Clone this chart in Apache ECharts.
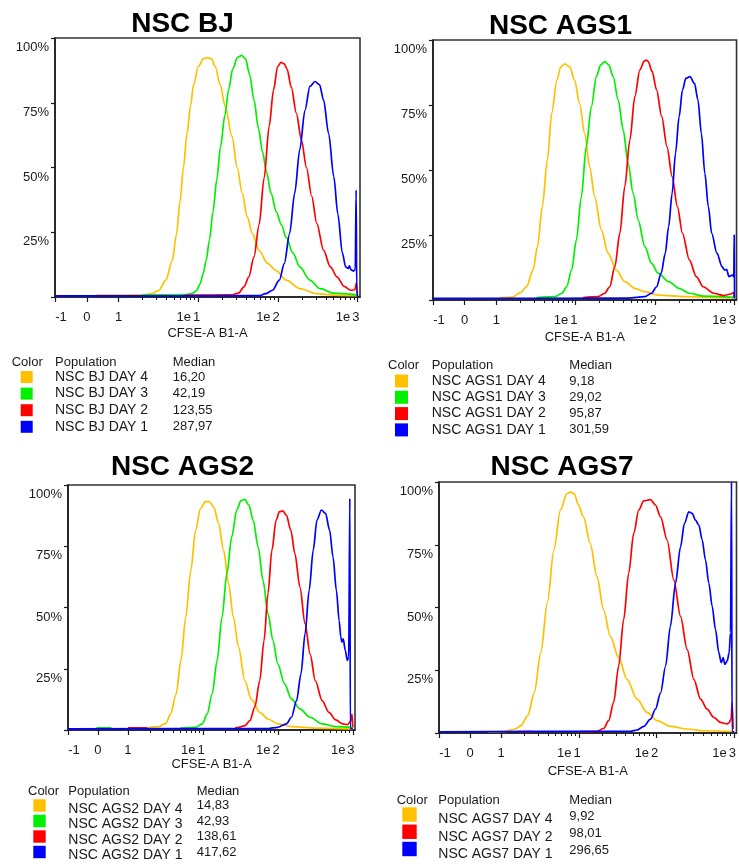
<!DOCTYPE html>
<html>
<head>
<meta charset="utf-8">
<title>CFSE proliferation histograms</title>
<script src="https://cdn.jsdelivr.net/npm/echarts@6/dist/echarts.min.js"></script>
<style>
  html, body { margin: 0; padding: 0; background: #fff; }
  #chart { width: 739px; height: 865px; }
</style>
</head>
<body>
<div id="chart"></div>
<script>
// ---- Axis ticks (CFSE-A B1-A channel, biexponential-style display) ----
const axisTickValues = [-1, 0, 1, 10, 100, 1000];
const axisTickLabels = ['-1', '0', '1', '1e1', '1e2', '1e3'];
const minorTickValues = [2, 3, 4, 5, 6, 7, 8, 9, 20, 30, 40, 50, 60, 70, 80, 90, 200, 300, 400, 500, 600, 700, 800, 900];
const yTickValues = [0, 25, 50, 75, 100];

// ---- Panel titles and populations ----
const panelTitles = ['NSC BJ', 'NSC AGS1', 'NSC AGS2', 'NSC AGS7'];
const panelDays = [
  ['DAY 4', 'DAY 3', 'DAY 2', 'DAY 1'],
  ['DAY 4', 'DAY 3', 'DAY 2', 'DAY 1'],
  ['DAY 4', 'DAY 3', 'DAY 2', 'DAY 1'],
  ['DAY 4', 'DAY 2', 'DAY 1']
];

// ---- Medians (channel value) ----
const bjMedians = [16.20, 42.19, 123.55, 287.97];
const ags1Medians = [9.18, 29.02, 95.87, 301.59];
const ags2Medians = [14.83, 42.93, 138.61, 417.62];
const ags7Medians = [9.92, 98.01, 296.65];

// ---- Histograms: [channel value, % of max] ----
const bjDay4 = [[0.3,0.7],[1,0.7],[2.2,0.9],[2.6,1.3],[3.2,2.6],[3.9,6.5],[4.7,14],[5.3,24],[5.9,37],[6.5,50],[7.2,63],[8,74],[8.7,82],[10,89],[11.6,92],[13,92.4],[14.5,92],[16.3,89],[18.8,82],[21.8,73.5],[26.5,62],[30.7,50],[35.6,40],[41.1,31],[47.6,24.5],[57.9,18],[73.9,13],[94,10.3],[127,6.5],[188,3.2],[307,1.3],[500,0.7],[990,0.5]];
const bjDay3 = [[2,0.8],[7,0.9],[8.5,1.4],[9.5,2.5],[10.5,5],[11.5,9],[12.5,14],[13.8,22],[15.3,33],[17,45],[19,58],[21.5,70],[24,80],[27,88],[31,92.5],[35,93.3],[39,92],[44,86],[50,76],[57,65],[64,56],[72,48],[82,40],[95,33],[110,28],[127,23],[154,17],[188,11.6],[252,6.5],[339,3.2],[500,1.5],[990,0.8]];
const bjDay2 = [[6.8,0.7],[26,0.8],[32,1.5],[37.4,3.9],[43,7.7],[50,15.5],[58,28],[67,46],[77.6,66],[88,80],[99,89],[109,90.6],[120,90],[130,88],[147,81],[170,71],[197,60.6],[228,50],[265,39],[307,28.4],[374,18],[455,11.6],[554,7.7],[675,4.1],[822,2.6],[925,2.8],[965,5.5],[990,1.5]];
const bjDay1 = [[-1,0.4],[58,0.5],[70,1.3],[85.5,2.6],[104,6.5],[120,12.9],[140,24.5],[162,40],[188,57],[218,72],[252,81.3],[292,83.2],[332,82],[374,76],[433,63],[502,46.5],[565,32],[643,17],[708,11.6],[759,11],[789,12],[822,10.6],[889,10],[934,10.6],[958,41.3],[975,2.6],[1000,0.3]];

const ags1Day4 = [[1.1,0.9],[1.6,1.1],[2.0,2.8],[2.4,5.1],[2.9,11.5],[3.3,20.5],[3.8,36],[4.4,54],[5.0,72],[5.8,84.6],[6.5,89.7],[7.3,90.8],[8.4,89.7],[9.7,84.6],[11.2,75.6],[13,64],[15,51.3],[17.4,39.7],[21.1,27],[25.6,18],[32.7,11.5],[41.7,7.1],[55.8,4.5],[74.7,3.2],[110,1.9],[246,1.3],[675,0.9],[1000,0.9]];
const ags1Day3 = [[3.2,0.9],[5.5,1.3],[6.7,2.6],[7.7,5.1],[8.9,11.5],[10.2,23],[11.8,39.7],[13.6,59],[15.8,74.4],[18.3,86],[20.7,90.4],[23.3,91.7],[26.2,90.4],[29.7,86],[34.4,77],[39.8,65.4],[45.9,52.6],[53.2,41],[61.5,30.8],[74.7,20.5],[90.7,14.1],[110,10.3],[149,7.1],[201,4.5],[272,2.6],[406,1.5],[1000,1]];
const ags1Day2 = [[12.4,0.9],[19.2,1.3],[23.3,2.6],[26.9,5.1],[31.2,12.8],[36.1,25.6],[41.7,43.6],[48.3,61.5],[55.8,78.2],[64.6,88.5],[73.3,91.9],[78,92.3],[82.4,91.7],[92.5,87.8],[105,80.8],[122,70.5],[142,59],[165,47.4],[192,36],[223,25.6],[272,15.4],[333,9],[406,5.1],[548,2.6],[741,1.7],[905,2.3],[980,2.8],[1005,0.9]];
const ags1Day1 = [[-1,0.6],[46,0.7],[74.7,1.3],[90.7,2.6],[105,5.1],[120,10.3],[135,17.9],[149,28.2],[165,41],[182,56.4],[202,70.5],[223,80.8],[246,85.3],[277,85.9],[316,83.3],[349,77],[386,64],[427,48.7],[472,36],[521,25.6],[606,18],[705,12.8],[756,11.5],[802,11.8],[860,9],[951,9.6],[990,9],[1002,25],[1012,0.6]];

const ags2Day4 = [[1.75,0.8],[2.6,1.4],[3.2,2.7],[3.7,6.5],[4.4,14.7],[5.1,28.4],[5.9,46],[6.9,65],[8.0,81.6],[9.3,90.4],[10.8,93.2],[12.2,93.2],[14,91],[16.2,84.3],[18.9,73.4],[22,59.8],[25.6,46],[29.8,34],[36.4,20],[44.5,12.5],[57.4,7.2],[73.9,4.5],[100,2.5],[152,1.4],[316,0.8],[900,0.5],[1000,0.5]];
const ags2Day3 = [[-0.05,0.9],[0.45,0.9],[0.5,null],[5,0.8],[8,1.1],[9.8,2.5],[11.4,6.5],[13.3,14.7],[15.5,28.4],[18,46],[20.9,63.8],[24.3,78.9],[28.3,89.8],[32.3,93.6],[36.4,94.1],[41.1,91.8],[46.9,85.7],[54.6,74.8],[63.5,61],[73.9,47.5],[86,36.6],[100,27],[123,18.8],[152,12.7],[197,8.6],[270,5.2],[390,2.5],[593,1.4],[949,1.1],[1000,1]];
const ags2Day2 = [[1,0.9],[1.8,0.9],[2,null],[27,0.9],[29.8,1.1],[36.4,1.8],[42.4,3.8],[49.3,9.3],[57.4,20.2],[65.5,36.6],[73.9,55.7],[83.4,73.4],[95,85.7],[105,89.1],[117,89.4],[130,87.7],[149,81.6],[169,72],[197,58.4],[231,43.4],[270,31],[316,20.2],[390,12],[481,7.2],[593,4.1],[731,2.5],[855,2.2],[949,3.8],[980,6.5],[1000,1]];
const ags2Day1 = [[-1,0.5],[74,0.6],[100,1.1],[130,2.5],[152,5.2],[178,12],[204,23],[231,39.3],[262,57],[297,73.4],[333,85.7],[382,89.8],[433,88.4],[491,81.6],[545,70.7],[605,57],[658,44.7],[693,37.9],[716,35.9],[746,37.2],[795,32.5],[846,28.4],[882,29.7],[915,94.5],[928,0.6],[1000,0.5]];

const ags7Day4 = [[0.57,0.5],[1.1,0.6],[1.5,1.5],[1.8,2.9],[2.2,6.9],[2.67,16],[3.24,32],[3.94,52],[4.78,73],[5.8,88.8],[7.05,95.4],[7.8,96],[8.7,95.4],[9.9,90.8],[11.5,86],[14,75.6],[17.1,62.4],[20.9,49],[25.4,38.6],[32.6,30],[41.8,21.4],[56.2,13.5],[75.7,8.2],[102,4.9],[151,2.6],[248,1.6],[406,0.9],[1000,0.6]];
const ags7Day2 = [[1.6,0.6],[2.6,0.6],[2.8,null],[10.4,0.6],[17.1,0.7],[20.9,1.8],[24.2,4.9],[28.1,12.2],[32.6,26.7],[37.8,45.2],[43.9,63.7],[50.9,79.5],[59.1,88.8],[68.6,92.5],[83.6,93],[97,90.8],[113,86.1],[137,76.9],[167,61],[204,46.5],[248,33.3],[303,21.4],[369,13.5],[449,9.5],[547,6.2],[667,4.2],[813,3.6],[853,4],[915,5.5],[942,12.2],[970,1.6]];
const ags7Day1 = [[-1,0.5],[46,0.7],[56,1.2],[68.6,2.6],[83.7,5.5],[97,9.5],[113,16],[131,26.7],[151,42.5],[176,59.7],[204,74.2],[229,83.5],[261,88.1],[288,87.5],[318,84.8],[351,82.8],[387,77],[427,69],[472,59.7],[521,50.5],[575,41.2],[635,32],[681,28],[722,30],[759,27.3],[813,28.7],[863,32],[897,40],[925,100],[940,0.5],[1000,0.5]];

const panelCurves = [
  [bjDay4, bjDay3, bjDay2, bjDay1],
  [ags1Day4, ags1Day3, ags1Day2, ags1Day1],
  [ags2Day4, ags2Day3, ags2Day2, ags2Day1],
  [ags7Day4, ags7Day2, ags7Day1]
];
const panelMedians = [bjMedians, ags1Medians, ags2Medians, ags7Medians];

// ---- Styling ----
const FONT = '"Liberation Sans", Arial, Helvetica, sans-serif';
const INK = '#1a1a1a';
const dayColors = { 'DAY 4': '#FFC000', 'DAY 3': '#00F000', 'DAY 2': '#FF0000', 'DAY 1': '#0000FF' };

// Display transform: linear around zero, log10 above 1
const LIN = 0.4;
function toAxis(v) { return v >= 1 ? Math.log10(v) : (v - 1) * LIN; }
const X_MIN = toAxis(-1);
const X_MAX = 3.03;
const majorU = axisTickValues.map(toAxis);
const minorU = minorTickValues.map(toAxis);

// Per-panel placement
const layout = [
  { grid: { left: 55, top: 38, width: 305, height: 259 }, title: [182.5, 24.2], nameGap: 29.5,
    legend: { left: 20.7, top: 370, size: 12, gap: 2.6, spacer: 17.3, nameW: 117.7, drop: 0, mDrop: 0 },
    head: { y: 362.7, color: 11.7, pop: 55, med: 172.7 } },
  { grid: { left: 433, top: 40, width: 304, height: 260 }, title: [560.5, 25.8], nameGap: 30.5,
    legend: { left: 395, top: 374, size: 13, gap: 2.3, spacer: 18.7, nameW: 137.6, drop: 0, mDrop: 0 },
    head: { y: 365, color: 388, pop: 431.7, med: 569.3 } },
  { grid: { left: 68, top: 485, width: 287, height: 245 }, title: [182.5, 467], nameGap: 26.5,
    legend: { left: 33.3, top: 795, size: 12.4, gap: -5.5, spacer: 17.6, nameW: 128.4, drop: 7, mDrop: 0 },
    head: { y: 791.7, color: 28, pop: 68.3, med: 196.7 } },
  { grid: { left: 439, top: 482, width: 298, height: 251 }, title: [562, 467], nameGap: 31.5,
    legend: { left: 402.3, top: 802.5, size: 14.4, gap: -6.75, spacer: 16.6, nameW: 131, drop: 10, mDrop: 3 },
    head: { y: 800, color: 396.7, pop: 438.3, med: 569.3 } }
];

function fmtMedian(v) { return v.toFixed(2).replace('.', ','); }

function tickLabel(v) {
  const i = majorU.findIndex(u => Math.abs(u - v) < 1e-6);
  const t = axisTickLabels[i];
  if (t === undefined) return '';
  const m = /^1e(\d)$/.exec(t);
  if (m) return '{e|1e}{p|' + m[1] + '}';
  if (t.charAt(0) === '-') return '{n|' + t + '}';
  return '{d|' + t + '}';
}

const grids = [], xAxes = [], yAxes = [], series = [], titles = [], legends = [], graphics = [];

panelTitles.forEach((title, p) => {
  const L = layout[p];
  grids.push(Object.assign({ show: true, borderColor: '#333', borderWidth: 1.6, containLabel: false }, L.grid));

  titles.push({
    text: title, left: L.title[0], top: L.title[1], textAlign: 'center', textVerticalAlign: 'middle', padding: 0,
    textStyle: { fontFamily: FONT, fontSize: 28, fontWeight: 'bold', color: '#000' }
  });

  // major ticks + labels
  xAxes.push({
    type: 'value', gridIndex: p, min: X_MIN, max: X_MAX, position: 'bottom',
    axisLine: { show: true, onZero: false, lineStyle: { color: INK, width: 1.5 } },
    axisTick: { show: true, customValues: majorU, length: 5, lineStyle: { color: INK, width: 1.2 } },
    axisLabel: {
      customValues: majorU, formatter: tickLabel, margin: 14, fontFamily: FONT, fontSize: 13, color: INK,
      rich: {
        d: { fontFamily: FONT, fontSize: 13, color: INK },
        n: { fontFamily: FONT, fontSize: 13, color: INK, padding: [0, 0, 0, 12] },
        e: { fontFamily: FONT, fontSize: 13, color: INK },
        p: { fontFamily: FONT, fontSize: 13, color: INK, padding: [0, 20, 0, 2] }
      }
    },
    splitLine: { show: false },
    name: 'CFSE-A B1-A', nameLocation: 'middle', nameGap: L.nameGap,
    nameTextStyle: { fontFamily: FONT, fontSize: 13, color: INK }
  });
  // minor (log) ticks
  xAxes.push({
    type: 'value', gridIndex: p, min: X_MIN, max: X_MAX, position: 'bottom',
    axisLine: { show: false },
    axisTick: { show: true, customValues: minorU, length: 3, lineStyle: { color: INK, width: 1 } },
    axisLabel: { show: false },
    splitLine: { show: false }
  });

  yAxes.push({
    type: 'value', gridIndex: p, min: yTickValues[0], max: yTickValues[yTickValues.length - 1], interval: 25,
    axisLine: { show: true, onZero: false, lineStyle: { color: INK, width: 1.5 } },
    axisTick: { show: true, length: 4, lineStyle: { color: INK, width: 1.2 } },
    axisLabel: {
      formatter: v => (v === 0 ? '' : v + '%'), margin: 6, fontFamily: FONT, fontSize: 13, color: INK,
      verticalAlign: 'top', lineHeight: 19
    },
    splitLine: { show: false }
  });

  const names = panelDays[p].map(d => title + ' ' + d);
  const medianOf = {};
  names.forEach((n, i) => { medianOf[n] = fmtMedian(panelMedians[p][i]); });

  names.forEach((name, i) => {
    const color = dayColors[panelDays[p][i]];
    series.push({
      name, type: 'line', xAxisIndex: p * 2, yAxisIndex: p,
      data: panelCurves[p][i].map(([v, pct]) => [toAxis(v), pct]),
      showSymbol: false, symbol: 'none', smooth: 0.3, smoothMonotone: 'x', connectNulls: false,
      color, lineStyle: { color, width: 1.7 }, itemStyle: { color },
      emphasis: { disabled: true }, z: 2 + i
    });
  });

  const Lg = L.legend;
  legends.push({
    left: Lg.left, top: Lg.top, orient: 'vertical', icon: 'rect', padding: 0,
    itemWidth: Lg.size, itemHeight: Lg.size, itemGap: Lg.gap, selectedMode: false,
    itemStyle: { borderWidth: 0 },
    data: names,
    formatter: name => '{s| }{n|' + name + '}{m|' + medianOf[name] + '}',
    textStyle: {
      fontFamily: FONT, fontSize: 14, color: INK,
      rich: {
        s: { width: Lg.spacer, fontSize: 14, lineHeight: 14 },
        n: { width: Lg.nameW, fontFamily: FONT, fontSize: 14, lineHeight: 14, color: INK, padding: [Lg.drop, 0, 0, 0] },
        m: { fontFamily: FONT, fontSize: 13, lineHeight: 14, color: INK, padding: [Lg.mDrop, 0, 0, 0] }
      }
    }
  });

  const H = L.head;
  [['Color', H.color], ['Population', H.pop], ['Median', H.med]].forEach(([t, x]) => {
    graphics.push({
      type: 'text', x, y: H.y, silent: true,
      style: { text: t, fontFamily: FONT, fontSize: 13, fill: INK, verticalAlign: 'middle', align: 'left' }
    });
  });
});

const chart = echarts.init(document.getElementById('chart'), null, { renderer: 'canvas' });
chart.setOption({
  animation: false,
  backgroundColor: '#fff',
  title: titles,
  grid: grids,
  xAxis: xAxes,
  yAxis: yAxes,
  legend: legends,
  graphic: graphics,
  series
});
</script>
</body>
</html>
